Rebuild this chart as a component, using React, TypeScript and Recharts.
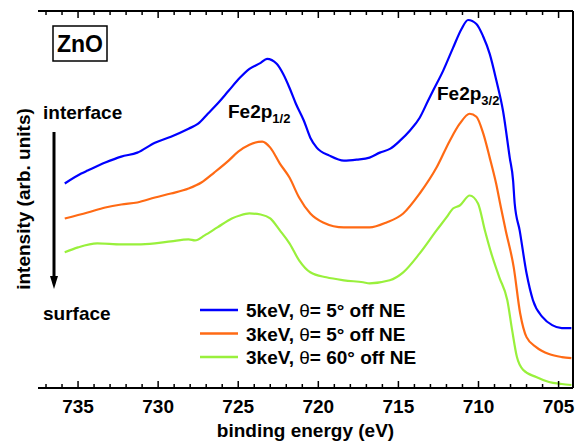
import React from "react";
import { LineChart, Line, XAxis, YAxis, Legend } from "recharts";

// binding energy (eV) and intensity (arb. units)
const BLUE_E = [735.83, 734.8, 734.4, 733.3, 732.3, 731.3, 730.2, 729.2, 728.1, 727.5, 726.9, 726.3, 725.6, 724.9, 724.3, 723.6, 723.2, 722.6, 722.2, 721.8, 721.4, 720.9, 720.5, 720.1, 719.3, 718.4, 717.6, 716.8, 716.16, 715.5, 714.9, 714.29, 713.67, 713.15, 712.84, 712.21, 711.59, 711.06, 710.65, 710.13, 709.72, 709.3, 708.88, 708.47, 708.05, 707.84, 707.74, 707.43, 707.0, 706.6, 706.0, 705.4, 704.8, 704.2];
const BLUE_I = [205, 215, 218, 226, 232, 236, 246, 252, 260, 265, 275, 285, 298, 311, 320, 326, 330, 325, 315, 301, 285, 268, 251, 241, 233, 228, 229, 231, 236, 240, 248, 258, 271, 288, 298, 318, 341, 360, 369, 365, 353, 335, 308, 278, 231, 208, 185, 158, 115, 88, 71, 63, 60, 60];

const ORANGE_E = [735.83, 734.4, 733.3, 732.3, 731.3, 730.2, 729.2, 728.1, 727.3, 726.5, 725.6, 725.0, 724.3, 723.5, 723.0, 722.4, 721.8, 721.2, 720.5, 719.7, 718.4, 717.2, 716.8, 715.74, 714.7, 713.67, 712.62, 711.79, 711.17, 710.55, 710.13, 709.7, 709.3, 708.9, 708.6, 708.3, 707.8, 707.4, 707.0, 706.4, 705.6, 704.8, 704.2];
const ORANGE_I = [170, 176, 181, 184, 186, 191, 195, 200, 206, 216, 228, 237, 244, 247, 241, 225, 211, 191, 175, 166, 161, 161, 161, 166, 175, 195, 221, 248, 265, 275, 272, 255, 231, 205, 181, 158, 121, 75, 51, 41, 34, 31, 30];

const GREEN_E = [735.83, 735.0, 733.8, 732.3, 731.3, 730.2, 729.2, 728.1, 727.7, 727.1, 726.3, 725.4, 724.9, 724.3, 723.6, 723.0, 722.4, 721.8, 721.2, 720.5, 719.5, 718.4, 717.2, 716.8, 715.54, 714.7, 713.67, 712.62, 712.0, 711.59, 711.17, 710.55, 710.03, 709.6, 709.2, 708.7, 708.2, 707.9, 707.6, 707.2, 706.4, 705.6, 704.8, 704.2];
const GREEN_I = [136, 141, 145, 144, 144, 145, 147, 149, 148, 153, 161, 170, 173, 175, 174, 170, 158, 145, 128, 116, 111, 108, 106, 105, 108, 116, 135, 158, 171, 180, 183, 193, 185, 158, 135, 111, 88, 58, 31, 18, 11, 6, 4, 3];

const SERIES_NAMES = ["5keV, \u03b8= 5\u00b0 off NE", "3keV, \u03b8= 5\u00b0 off NE", "3keV, \u03b8= 60\u00b0 off NE"];
const SERIES_COLORS = ["#0000ff", "#ff6a14", "#99f03c"];

const X_DOMAIN = [704.1, 737.5];
const Y_DOMAIN = [0, 378];
const X_TICKS = [705, 706, 707, 708, 709, 710, 711, 712, 713, 714, 715, 716, 717, 718, 719, 720, 721, 722, 723, 724, 725, 726, 727, 728, 729, 730, 731, 732, 733, 734, 735, 736, 737];
const MAJOR_TICKS = [705, 710, 715, 720, 725, 730, 735];

const zip = (e: number[], i: number[]) => e.map((v, k) => ({ e: v, i: i[k] }));
const blueData = zip(BLUE_E, BLUE_I);
const orangeData = zip(ORANGE_E, ORANGE_I);
const greenData = zip(GREEN_E, GREEN_I);

const FONT = "'Liberation Sans', Arial, sans-serif";

const BottomTick = (props: any) => {
  const { x, y, payload } = props;
  const major = MAJOR_TICKS.includes(payload.value);
  return (
    <g>
      <line x1={x} x2={x} y1={y} y2={y - (major ? 7 : 4)} stroke="#000" strokeWidth={1.5} />
      {major && (
        <text x={x} y={y + 25} textAnchor="middle" fontFamily={FONT} fontWeight="bold" fontSize={19} fill="#000">
          {payload.value}
        </text>
      )}
    </g>
  );
};

const TopTick = (props: any) => {
  const { x, y, payload } = props;
  const major = MAJOR_TICKS.includes(payload.value);
  return <line x1={x} x2={x} y1={y} y2={y + (major ? 7 : 4)} stroke="#000" strokeWidth={1.5} />;
};

const LegendContent = (props: any) => {
  const payload = [...(props.payload || [])]
    .filter((p: any) => SERIES_NAMES.includes(p.value))
    .sort((a: any, b: any) => SERIES_NAMES.indexOf(a.value) - SERIES_NAMES.indexOf(b.value));
  return (
    <svg width={230} height={72} style={{ overflow: "visible" }}>
      {payload.map((p: any, k: number) => {
        const cy = 12 + k * 23.5;
        const parts = String(p.value).split("\u03b8");
        return (
          <g key={k}>
            <line x1={2} x2={40} y1={cy} y2={cy} stroke={p.color} strokeWidth={2.5} />
            <text x={48} y={cy + 7} fontFamily={FONT} fontWeight="bold" fontSize={19} fill="#000">
              {parts[0]}
              <tspan fontWeight="normal">{"\u03b8"}</tspan>
              {parts[1]}
            </text>
          </g>
        );
      })}
    </svg>
  );
};

export default function App() {
  return (
    <div style={{ position: "absolute", left: 0, top: 0, width: 578, height: 441, background: "#fff" }}>
      <LineChart width={578} height={441} margin={{ top: 10, right: 4, left: 38, bottom: 0 }}>
        <XAxis
          dataKey="e"
          type="number"
          domain={X_DOMAIN}
          reversed
          allowDataOverflow
          ticks={X_TICKS}
          interval={0}
          height={53}
          tickSize={0}
          tickMargin={0}
          tickLine={false}
          tick={<BottomTick />}
          axisLine={{ stroke: "#000", strokeWidth: 2 }}
        />
        <XAxis
          xAxisId="top"
          orientation="top"
          dataKey="e"
          type="number"
          domain={X_DOMAIN}
          reversed
          allowDataOverflow
          ticks={X_TICKS}
          interval={0}
          height={1}
          tickSize={0}
          tickMargin={0}
          tickLine={false}
          tick={<TopTick />}
          axisLine={{ stroke: "#000", strokeWidth: 2 }}
        />
        <YAxis
          type="number"
          domain={Y_DOMAIN}
          allowDataOverflow
          width={0}
          tick={false}
          tickLine={false}
          axisLine={{ stroke: "#000", strokeWidth: 2 }}
        />
        <YAxis
          yAxisId="right"
          orientation="right"
          type="number"
          domain={Y_DOMAIN}
          allowDataOverflow
          width={1}
          tick={false}
          tickLine={false}
          axisLine={{ stroke: "#000", strokeWidth: 2 }}
        />
        <Line data={blueData} dataKey="i" name={SERIES_NAMES[0]} type="monotone" stroke={SERIES_COLORS[0]} strokeWidth={2.2} dot={false} isAnimationActive={false} />
        <Line data={orangeData} dataKey="i" name={SERIES_NAMES[1]} type="monotone" stroke={SERIES_COLORS[1]} strokeWidth={2.2} dot={false} isAnimationActive={false} />
        <Line data={greenData} dataKey="i" name={SERIES_NAMES[2]} type="monotone" stroke={SERIES_COLORS[2]} strokeWidth={2.2} dot={false} isAnimationActive={false} />
        <Line
          data={blueData}
          dataKey="i"
          xAxisId="top"
          yAxisId="right"
          name="frame"
          legendType="none"
          stroke="none"
          dot={false}
          activeDot={false}
          isAnimationActive={false}
        />
        <Legend
          layout="vertical"
          align="center"
          verticalAlign="middle"
          content={<LegendContent />}
          wrapperStyle={{ left: 198, top: 298, width: 230, height: 72 }}
        />
      </LineChart>
      <svg width={578} height={441} style={{ position: "absolute", left: 0, top: 0, pointerEvents: "none" }}>
        <text
          x={23}
          y={199}
          transform="rotate(-90 23 199)"
          textAnchor="middle"
          dominantBaseline="central"
          fontFamily={FONT}
          fontWeight="bold"
          fontSize={19}
        >
          intensity (arb. units)
        </text>
        <text x={305.5} y={437} textAnchor="middle" fontFamily={FONT} fontWeight="bold" fontSize={19}>
          binding energy (eV)
        </text>
        <rect x={53} y={26} width={54} height={35} fill="#fff" stroke="#000" strokeWidth={1.5} />
        <text x={80} y={52} textAnchor="middle" fontFamily={FONT} fontWeight="bold" fontSize={23}>
          ZnO
        </text>
        <text x={43} y={119} fontFamily={FONT} fontWeight="bold" fontSize={19}>
          interface
        </text>
        <line x1={54} x2={54} y1={132} y2={278} stroke="#000" strokeWidth={3} />
        <polygon points="50,276 58,276 54,289" fill="#000" />
        <text x={43} y={320} fontFamily={FONT} fontWeight="bold" fontSize={19}>
          surface
        </text>
        <text x={228} y={118} fontFamily={FONT} fontWeight="bold" fontSize={19}>
          Fe2p<tspan fontSize={13} dy={5}>1/2</tspan>
        </text>
        <text x={437} y={100} fontFamily={FONT} fontWeight="bold" fontSize={19}>
          Fe2p<tspan fontSize={13} dy={5}>3/2</tspan>
        </text>
      </svg>
    </div>
  );
}
